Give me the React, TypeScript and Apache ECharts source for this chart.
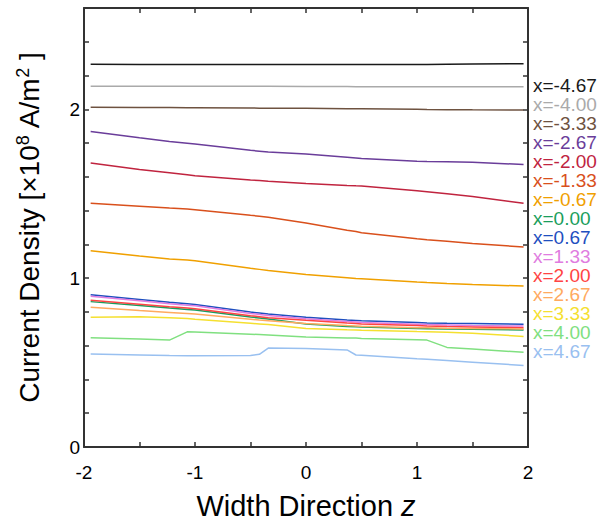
import React, { useEffect, useRef } from "react";
import * as echarts from "echarts";

// Positions across the width direction (z) where the current density was sampled
const Z = [-1.94, -1.5, -1.23, -1.07, -1, -0.5, -0.42, -0.34, 0, 0.37, 0.45, 0.5, 1, 1.09, 1.27, 1.5, 1.96];

// Current density [×10^8 A/m^2] along z, one array per x position
const J_XM467 = [2.267, 2.266, 2.266, 2.266, 2.266, 2.265, 2.265, 2.265, 2.265, 2.265, 2.265, 2.265, 2.266, 2.266, 2.267, 2.268, 2.270];
const J_XM400 = [2.137, 2.137, 2.137, 2.136, 2.136, 2.136, 2.136, 2.136, 2.135, 2.135, 2.134, 2.134, 2.134, 2.134, 2.133, 2.133, 2.133];
const J_XM333 = [2.012, 2.011, 2.010, 2.009, 2.009, 2.008, 2.007, 2.007, 2.006, 2.004, 2.003, 2.003, 2.000, 1.999, 1.998, 1.997, 1.996];
const J_XM267 = [1.869, 1.831, 1.810, 1.799, 1.794, 1.757, 1.752, 1.747, 1.735, 1.716, 1.712, 1.709, 1.692, 1.691, 1.690, 1.687, 1.673];
const J_XM200 = [1.682, 1.643, 1.624, 1.612, 1.606, 1.581, 1.578, 1.574, 1.561, 1.549, 1.547, 1.546, 1.517, 1.512, 1.500, 1.483, 1.444];
const J_XM133 = [1.444, 1.426, 1.415, 1.409, 1.405, 1.372, 1.367, 1.361, 1.327, 1.284, 1.276, 1.269, 1.234, 1.228, 1.218, 1.205, 1.185];
const J_XM067 = [1.162, 1.131, 1.114, 1.107, 1.103, 1.058, 1.052, 1.046, 1.021, 1.002, 0.998, 0.996, 0.977, 0.974, 0.969, 0.963, 0.953];
const J_X000 = [0.861, 0.838, 0.823, 0.815, 0.811, 0.770, 0.764, 0.758, 0.728, 0.714, 0.712, 0.710, 0.702, 0.701, 0.699, 0.697, 0.693];
const J_X067 = [0.902, 0.874, 0.857, 0.848, 0.844, 0.799, 0.793, 0.787, 0.768, 0.752, 0.749, 0.747, 0.737, 0.735, 0.733, 0.731, 0.727];
const J_X133 = [0.893, 0.866, 0.849, 0.840, 0.836, 0.791, 0.785, 0.779, 0.760, 0.743, 0.740, 0.738, 0.727, 0.725, 0.723, 0.720, 0.716];
const J_X200 = [0.869, 0.846, 0.831, 0.823, 0.819, 0.778, 0.772, 0.766, 0.750, 0.734, 0.731, 0.729, 0.719, 0.717, 0.714, 0.711, 0.706];
const J_X267 = [0.828, 0.808, 0.797, 0.790, 0.787, 0.757, 0.752, 0.748, 0.731, 0.719, 0.717, 0.715, 0.707, 0.706, 0.704, 0.702, 0.699];
const J_X333 = [0.768, 0.772, 0.766, 0.761, 0.757, 0.733, 0.729, 0.725, 0.702, 0.694, 0.693, 0.692, 0.684, 0.683, 0.679, 0.674, 0.655];
const J_X400 = [0.647, 0.640, 0.633, 0.682, 0.681, 0.668, 0.666, 0.664, 0.652, 0.646, 0.645, 0.643, 0.635, 0.633, 0.590, 0.580, 0.561];
const J_X467 = [0.551, 0.545, 0.542, 0.541, 0.541, 0.542, 0.549, 0.586, 0.583, 0.575, 0.545, 0.543, 0.522, 0.519, 0.512, 0.502, 0.483];

const LABELS = [
  "x=-4.67", "x=-4.00", "x=-3.33", "x=-2.67", "x=-2.00", "x=-1.33", "x=-0.67", "x=0.00",
  "x=0.67", "x=1.33", "x=2.00", "x=2.67", "x=3.33", "x=4.00", "x=4.67",
];

const VALUES = [
  J_XM467, J_XM400, J_XM333, J_XM267, J_XM200, J_XM133, J_XM067, J_X000,
  J_X067, J_X133, J_X200, J_X267, J_X333, J_X400, J_X467,
];

const COLORS = [
  "#1a1a1a", "#aaaaaa", "#6e5240", "#6a3d9a", "#c0243f", "#d9501c", "#f0a000", "#1a9e5c",
  "#1f4fbf", "#e07ce0", "#ff4444", "#ffaa60", "#f5e030", "#80e080", "#99c0f0",
];

const X_TICKS = { min: -2, max: 2, interval: 0.5 };
const Y_TICKS = { min: 0, max: 2.6, interval: 0.2 };

const FONT = "'Liberation Sans', Arial, sans-serif";
const AXIS_COLOR = "#333";

const integerLabel = (v: number) => {
  const r = Math.round(v);
  return Math.abs(v - r) < 1e-6 ? String(r) : "";
};

export default function App() {
  const ref = useRef<HTMLDivElement>(null);

  useEffect(() => {
    if (!ref.current) return;
    const chart = echarts.init(ref.current, undefined, { renderer: "svg" });

    const axisLine = { show: true, onZero: false, lineStyle: { color: AXIS_COLOR, width: 2 } };
    const axisTick = { show: true, inside: true, length: 5, lineStyle: { color: AXIS_COLOR, width: 1.5 } };
    const legendText = { fontSize: 19, fontFamily: FONT };

    chart.setOption({
      animation: false,
      backgroundColor: "#fff",
      grid: { left: 84, right: 83, top: 8, bottom: 82, containLabel: false },
      legend: {
        orient: "vertical",
        left: 528,
        top: 75.5,
        padding: 0,
        icon: "none",
        itemWidth: 0,
        itemHeight: 0,
        itemGap: 0,
        selectedMode: false,
        textStyle: legendText,
        data: LABELS.map((name, i) => ({ name, textStyle: { ...legendText, color: COLORS[i] } })),
      },
      xAxis: [
        {
          type: "value",
          position: "bottom",
          ...X_TICKS,
          axisLine,
          axisTick,
          splitLine: { show: false },
          axisLabel: { formatter: integerLabel, margin: 16, fontSize: 19, color: "#000", fontFamily: FONT },
          name: "Width Direction {i|z}",
          nameLocation: "middle",
          nameGap: 44,
          nameTextStyle: {
            fontSize: 29,
            color: "#000",
            fontFamily: FONT,
            rich: { i: { fontSize: 29, fontStyle: "italic", color: "#000", fontFamily: FONT } },
          },
        },
        {
          type: "value",
          position: "top",
          ...X_TICKS,
          axisLine,
          axisTick,
          splitLine: { show: false },
          axisLabel: { show: false },
        },
      ],
      yAxis: [
        {
          type: "value",
          position: "left",
          ...Y_TICKS,
          axisLine,
          axisTick,
          splitLine: { show: false },
          axisLabel: { formatter: integerLabel, margin: 4, fontSize: 19, color: "#000", fontFamily: FONT },
          name: "Current Density [×10{sup|8} A/m{sup|2} ]",
          nameLocation: "middle",
          nameGap: 40,
          nameTextStyle: {
            fontSize: 28,
            color: "#000",
            fontFamily: FONT,
            lineHeight: 30,
            rich: {
              sup: { fontSize: 18, color: "#000", fontFamily: FONT, verticalAlign: "top", lineHeight: 18, padding: [0, 0, 14, 0] },
            },
          },
        },
        {
          type: "value",
          position: "right",
          ...Y_TICKS,
          axisLine,
          axisTick,
          splitLine: { show: false },
          axisLabel: { show: false },
        },
      ],
      series: VALUES.map((vals, i) => ({
        name: LABELS[i],
        type: "line",
        xAxisIndex: 0,
        yAxisIndex: 0,
        symbol: "none",
        showSymbol: false,
        lineStyle: { color: COLORS[i], width: 1.5 },
        itemStyle: { color: COLORS[i] },
        data: Z.map((z, k) => [z, vals[k]]),
      })),
    });

    return () => chart.dispose();
  }, []);

  return (
    <div
      ref={ref}
      style={{ position: "fixed", left: 0, top: 0, width: 611, height: 529 }}
    />
  );
}
